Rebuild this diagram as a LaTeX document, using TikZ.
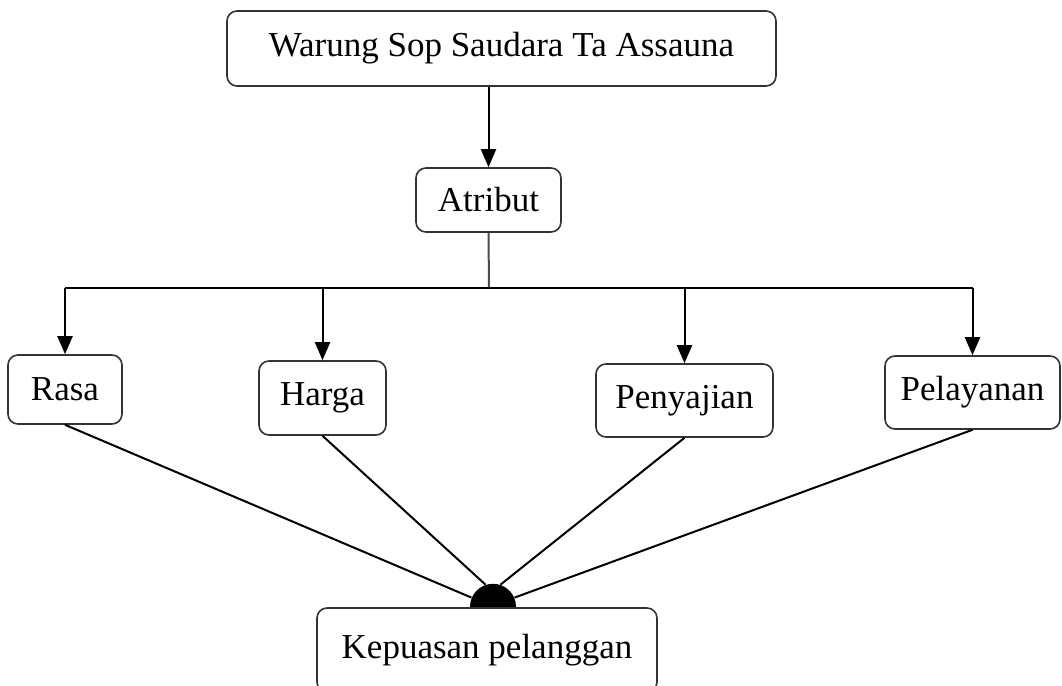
\documentclass[tikz,border=0pt]{standalone}
\usepackage{fontspec}
\setmainfont{Liberation Serif}
\usetikzlibrary{positioning, arrows.meta, shapes.geometric}

\begin{document}
\begin{tikzpicture}[
        x=0.5pt, y=-0.5pt,
        font=\fontsize{17.5}{20}\selectfont,
        >={Triangle[width=7.5pt, length=9pt]},
        box/.style={draw=black!80, line width=0.8pt, rounded corners=5pt,
                    align=center, inner sep=0pt},
        link/.style={draw=black, line width=1pt},
        arrow/.style={->, link},
      ]
      \clip (0,0) rectangle (1062,686);
      \node[box, minimum width=274.5pt, minimum height=37.5pt] (top) at (501.5,48.5) {Warung Sop Saudara Ta Assauna};
      \node[box, minimum width=72.5pt, minimum height=32pt] (atribut) at (488.5,200) {Atribut};
      \node[box, minimum width=57pt, minimum height=34.5pt] (rasa) at (65,389.5) {Rasa};
      \node[box, minimum width=63.5pt, minimum height=37pt] (harga) at (322.5,398) {Harga};
      \node[box, minimum width=88.5pt, minimum height=36.5pt] (penyajian) at (684.5,400.5) {Penyajian};
      \node[box, minimum width=87.5pt, minimum height=36.5pt] (pelayanan) at (972.5,392.5) {Pelayanan};
      \node[box, minimum width=170pt, minimum height=42pt] (kepuasan) at (487,650) {Kepuasan pelanggan};
      \node[semicircle, fill=black, minimum width=23pt, inner sep=0pt, anchor=chord center]
        (hub) at ([xshift=3pt]kepuasan.north) {};
      \coordinate (bus) at (489,288);
      % atribut ke cabang
      \draw[arrow] (top.south -| atribut) -- (atribut.north);
      \draw[link, draw=black!70] (atribut.south) -- (bus);
      \draw[link] (rasa.north |- bus) -- (pelayanan.north |- bus);
      \draw[arrow] (rasa.north |- bus)      -- (rasa.north);
      \draw[arrow] (harga.north |- bus)     -- (harga.north);
      \draw[arrow] (penyajian.north |- bus) -- (penyajian.north);
      \draw[arrow] (pelayanan.north |- bus) -- (pelayanan.north);
      % cabang ke kepuasan
      \draw[link] (rasa.south)      -- (hub.west);
      \draw[link] (harga.south)     -- (hub.120);
      \draw[link] (penyajian.south) -- (hub.60);
      \draw[link] (pelayanan.south) -- (hub.east);
    \end{tikzpicture}
\end{document}
